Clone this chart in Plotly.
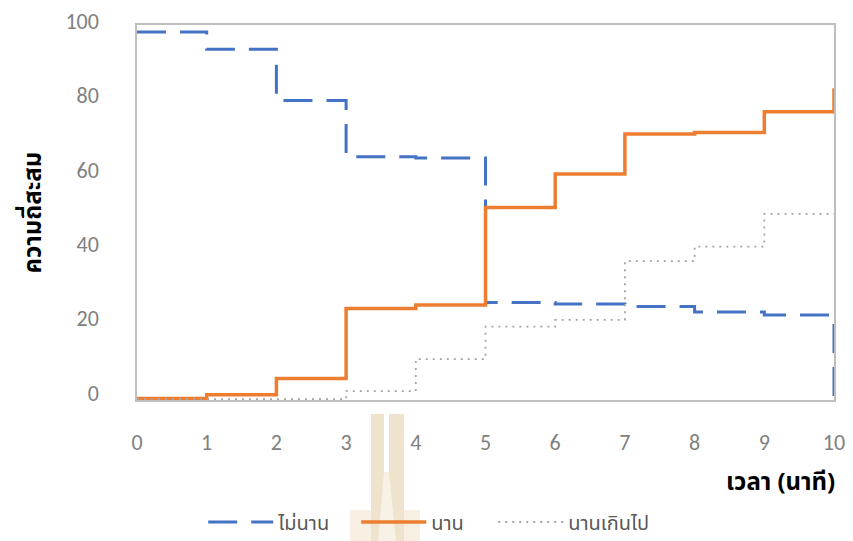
import plotly.graph_objects as go

# Elapsed time (minutes) and cumulative percentages per response group
minutes = [0, 1, 2, 3, 4, 5, 6, 7, 8, 9, 10]
not_long = [98.6, 94.0, 80.2, 65.1, 64.8, 26.0, 25.6, 24.9, 23.4, 22.6, 0]
long_ = [0.2, 1.2, 5.6, 24.4, 25.3, 51.5, 60.5, 71.2, 71.6, 77.2, 83.5]
too_long = [0, 0, 0, 2.2, 10.8, 19.5, 21.3, 37.1, 41.0, 49.8, 49.8]

series_names = ["ไม่นาน", "นาน", "นานเกินไป"]
x_ticks = list(range(0, 11))
y_ticks = [0, 20, 40, 60, 80, 100]

W, H = 853, 541
M_L, M_R, M_T, M_B = 137, 19, 25, 141
PW, PH = W - M_L - M_R, H - M_T - M_B

THAI = "Tahoma, 'Leelawadee UI', 'Noto Sans Thai', 'Noto Sans', sans-serif"
NUM = "Calibri, 'Open Sans', 'Noto Sans', sans-serif"

fig = go.Figure()
fig.add_trace(go.Scatter(
    x=minutes, y=not_long, name=series_names[0], mode="lines", legendwidth=73,
    line=dict(shape="hv", color="#4472C4", width=3, dash="29px,14px"),
))
fig.add_trace(go.Scatter(
    x=minutes, y=long_, name=series_names[1], mode="lines", legendwidth=57,
    line=dict(shape="hv", color="#ED7D31", width=3.5),
))
fig.add_trace(go.Scatter(
    x=minutes, y=too_long, name=series_names[2], mode="lines", legendwidth=90,
    line=dict(shape="hv", color="#A5A5A5", width=1.8, dash="2px,5px"),
))


def px_x(px):
    return (px - M_L) / PW


def px_y(py):
    return (H - M_B - py) / PH


# faint logo mark printed behind the legend
shapes = [
    dict(type="rect", xref="paper", yref="paper", layer="below",
         x0=px_x(350), x1=px_x(420), y0=px_y(541), y1=px_y(510),
         fillcolor="#F7EFE2", line=dict(width=0)),
    dict(type="rect", xref="paper", yref="paper", layer="below",
         x0=px_x(371), x1=px_x(404), y0=px_y(541), y1=px_y(414),
         fillcolor="#EFE3CD", line=dict(width=0)),
    dict(type="path", xref="paper", yref="paper", layer="below",
         path=f"M {px_x(384)} {px_y(472)} L {px_x(389)} {px_y(472)} "
              f"L {px_x(396)} {px_y(541)} L {px_x(378)} {px_y(541)} Z",
         fillcolor="#F8F1E6", line=dict(width=0)),
    dict(type="rect", xref="paper", yref="paper", layer="below",
         x0=px_x(384), x1=px_x(389), y0=px_y(472), y1=px_y(414),
         fillcolor="#FFFFFF", line=dict(width=0)),
]

fig.update_layout(
    width=W, height=H,
    margin=dict(l=M_L, r=M_R, t=M_T, b=M_B, pad=0, autoexpand=False),
    paper_bgcolor="white", plot_bgcolor="white",
    shapes=shapes,
    showlegend=True,
    legend=dict(
        orientation="h", x=0.425, xanchor="center", y=px_y(522), yanchor="middle",
        font=dict(family=THAI, size=20, color="#595959"),
        itemwidth=65, tracegroupgap=0, bgcolor="rgba(0,0,0,0)",
        entrywidthmode="pixels",
    ),
    xaxis=dict(
        range=[0, 10], tickmode="array", tickvals=x_ticks,
        showgrid=False, zeroline=False,
        showline=True, mirror=True, linecolor="#BFBFBF", linewidth=1.5,
        ticks="", ticklabelstandoff=22,
        tickfont=dict(family=NUM, size=22, color="#808080"),
    ),
    yaxis=dict(
        range=[-0.2, 100.5], tickmode="array", tickvals=y_ticks,
        showgrid=False, zeroline=False,
        showline=True, mirror=True, linecolor="#BFBFBF", linewidth=1.5,
        ticks="", ticklabelstandoff=32, ticklabelshift=-6,
        tickfont=dict(family=NUM, size=22, color="#808080"),
    ),
    annotations=[
        dict(text="<b>ความถี่สะสม</b>", xref="paper", yref="paper",
             x=px_x(33), y=0.5, textangle=-90, showarrow=False,
             xanchor="center", yanchor="middle",
             font=dict(family=THAI, size=24, color="#000000")),
        dict(text="<b>เวลา (นาที)</b>", xref="paper", yref="paper",
             x=px_x(837), y=px_y(483), showarrow=False,
             xanchor="right", yanchor="middle",
             font=dict(family=THAI, size=24, color="#000000")),
    ],
)

fig.write_html("out.html")
